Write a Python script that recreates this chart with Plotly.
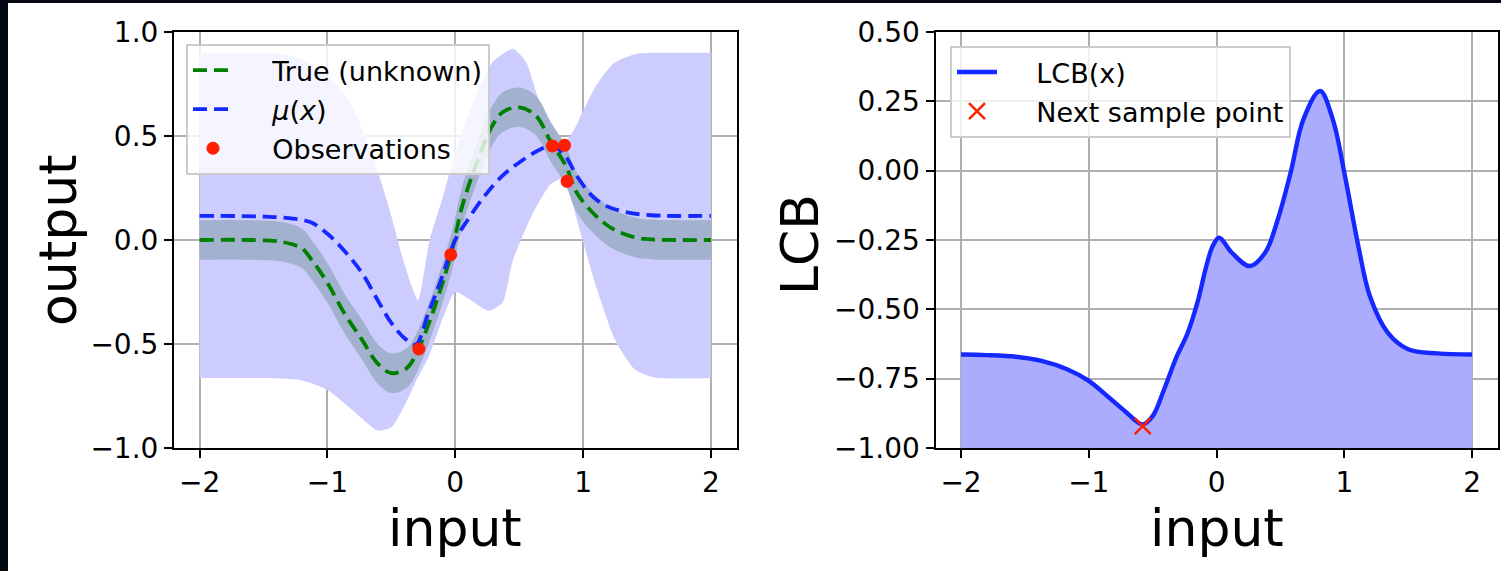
import plotly.graph_objects as go

# ---------------- data ----------------
true_x = [-2.0, -1.6, -1.35, -1.2, -1.13, -1.0, -0.87, -0.73, -0.61, -0.50, -0.38, -0.29, -0.15, -0.03,
          0.055, 0.17, 0.29, 0.37, 0.50, 0.63, 0.75, 0.865, 0.95, 1.10, 1.24, 1.415, 1.53, 2.0]
true_y = [0.0, 0.0, -0.01, -0.04, -0.09, -0.206, -0.35, -0.479, -0.592, -0.640, -0.616, -0.527, -0.302, -0.061,
          0.164, 0.373, 0.55, 0.614, 0.638, 0.598, 0.469, 0.357, 0.228, 0.116, 0.051, 0.011, 0.003, 0.0]
noise_band = 0.095

mu_x = [-2.0, -1.5, -1.3, -1.13, -1.0, -0.87, -0.73, -0.61, -0.50, -0.39, -0.31, -0.21, -0.12, 0.0,
        0.084, 0.23, 0.37, 0.52, 0.66, 0.76, 0.86, 0.95, 1.07, 1.18, 1.33, 1.53, 2.0]
mu_y = [0.116, 0.113, 0.105, 0.085, 0.03, -0.05, -0.158, -0.286, -0.399, -0.476, -0.503, -0.350, -0.206, 0.0,
        0.084, 0.212, 0.309, 0.381, 0.434, 0.453, 0.405, 0.309, 0.212, 0.164, 0.135, 0.119, 0.116]

ci_up_x = [-2.0, -1.6, -1.3, -1.1, -0.95, -0.84, -0.67, -0.52, -0.41, -0.33, -0.29, -0.2, -0.1, 0.0,
           0.1, 0.2, 0.3, 0.45, 0.55, 0.65, 0.75, 0.85, 0.92, 1.0, 1.1, 1.24, 1.42, 1.7, 2.0]
ci_up_y = [0.90, 0.90, 0.89, 0.84, 0.76, 0.68, 0.45, 0.16, -0.09, -0.24, -0.29, 0.0, 0.2, 0.42,
           0.6, 0.75, 0.86, 0.92, 0.86, 0.68, 0.55, 0.47, 0.52, 0.62, 0.74, 0.85, 0.895, 0.90, 0.90]
ci_lo_x = [-2.0, -1.5, -1.2, -1.0, -0.8, -0.61, -0.5, -0.4, -0.3, -0.2, -0.1, 0.0, 0.1, 0.26, 0.37,
           0.45, 0.6, 0.75, 0.86, 0.95, 1.1, 1.25, 1.4, 1.55, 2.0]
ci_lo_y = [-0.664, -0.664, -0.675, -0.72, -0.82, -0.915, -0.9, -0.8, -0.67, -0.55, -0.38, -0.25, -0.28, -0.34, -0.30,
           -0.1, 0.12, 0.27, 0.30, 0.1, -0.22, -0.48, -0.62, -0.66, -0.664]

obs_x = [-0.285, -0.035, 0.76, 0.855, 0.875]
obs_y = [-0.524, -0.071, 0.452, 0.455, 0.282]

lcb_x = [-2.0, -1.8, -1.57, -1.37, -1.17, -1.0, -0.84, -0.71, -0.58, -0.50, -0.41, -0.31, -0.23, -0.15,
         -0.08, -0.03, 0.02, 0.12, 0.26, 0.38, 0.48, 0.58, 0.68, 0.81, 0.91, 1.01, 1.11, 1.2, 1.34, 1.5, 1.73, 2.0]
lcb_y = [-0.663, -0.665, -0.671, -0.686, -0.716, -0.758, -0.819, -0.870, -0.915, -0.885, -0.788, -0.668, -0.590, -0.476,
         -0.344, -0.272, -0.242, -0.296, -0.344, -0.296, -0.175, -0.007, 0.185, 0.287, 0.185, -0.031, -0.272, -0.452,
         -0.584, -0.644, -0.659, -0.663]
next_x = [-0.578]
next_y = [-0.921]

x_ticks = [-2, -1, 0, 1, 2]
x_tick_text = ["\u22122", "\u22121", "0", "1", "2"]
y1_ticks = [-1.0, -0.5, 0.0, 0.5, 1.0]
y1_tick_text = ["\u22121.0", "\u22120.5", "0.0", "0.5", "1.0"]
y2_ticks = [-1.0, -0.75, -0.5, -0.25, 0.0, 0.25, 0.5]
y2_tick_text = ["\u22121.00", "\u22120.75", "\u22120.50", "\u22120.25", "0.00", "0.25", "0.50"]

# ---------------- figure ----------------
W, H = 1501, 571
FONT = "DejaVu Sans"
FS_TICK = 28
FS_LEG = 27
PAD = "\u00a0\u00a0\u00a0\u00a0"
fig = go.Figure()

# left: confidence band (lower edge, then upper edge filled to it)
fig.add_trace(go.Scatter(x=ci_lo_x, y=ci_lo_y, mode="lines",
                         line=dict(width=0, shape="spline", smoothing=0.6),
                         showlegend=False, hoverinfo="skip", xaxis="x", yaxis="y"))
fig.add_trace(go.Scatter(x=ci_up_x, y=ci_up_y, mode="lines", fill="tonexty", fillcolor="rgb(204,204,255)",
                         line=dict(width=0, shape="spline", smoothing=0.6),
                         showlegend=False, hoverinfo="skip", xaxis="x", yaxis="y"))
# noise band around the true function
band_lo = [v - noise_band for v in true_y]
band_up = [v + noise_band for v in true_y]
fig.add_trace(go.Scatter(x=true_x, y=band_lo, mode="lines", line=dict(width=0, shape="spline"),
                         showlegend=False, hoverinfo="skip", xaxis="x", yaxis="y"))
fig.add_trace(go.Scatter(x=true_x, y=band_up, mode="lines", fill="tonexty", fillcolor="rgb(162,177,205)",
                         line=dict(width=0, shape="spline"),
                         showlegend=False, hoverinfo="skip", xaxis="x", yaxis="y"))
fig.add_trace(go.Scatter(x=true_x, y=true_y, mode="lines", name=PAD + "True (unknown)",
                         line=dict(color="rgb(0,128,0)", width=3.8, dash="14px,7px", shape="spline"),
                         legendgroup="a", xaxis="x", yaxis="y"))
fig.add_trace(go.Scatter(x=mu_x, y=mu_y, mode="lines", name=PAD + "<i>\u03bc</i>(<i>x</i>)",
                         line=dict(color="rgb(20,40,255)", width=3.8, dash="14px,7px", shape="spline"),
                         legendgroup="b", xaxis="x", yaxis="y"))
fig.add_trace(go.Scatter(x=obs_x, y=obs_y, mode="markers", name=PAD + "Observations",
                         marker=dict(color="rgb(255,30,0)", size=13), legendgroup="c",
                         xaxis="x", yaxis="y"))

# right: LCB
fig.add_trace(go.Scatter(x=[lcb_x[0], lcb_x[-1]], y=[-1.0, -1.0], mode="lines", line=dict(width=0),
                         showlegend=False, hoverinfo="skip", xaxis="x2", yaxis="y2"))
fig.add_trace(go.Scatter(x=lcb_x, y=lcb_y, mode="lines", fill="tonexty", fillcolor="rgb(172,172,255)",
                         line=dict(width=0, shape="spline"), showlegend=False, hoverinfo="skip",
                         xaxis="x2", yaxis="y2"))
fig.add_trace(go.Scatter(x=lcb_x, y=lcb_y, mode="lines", name=PAD + "LCB(x)",
                         line=dict(color="rgb(20,40,255)", width=4.4, shape="spline"),
                         legend="legend2", legendgroup="d", xaxis="x2", yaxis="y2"))
fig.add_trace(go.Scatter(x=next_x, y=next_y, mode="markers", name=PAD + "Next sample point",
                         marker=dict(symbol="x-thin", size=16, line=dict(color="rgb(255,30,0)", width=2.5)),
                         legend="legend2", legendgroup="e", xaxis="x2", yaxis="y2"))

axis_common = dict(showline=True, linecolor="black", linewidth=2, mirror=True,
                   ticks="outside", ticklen=8, tickwidth=2, tickcolor="black",
                   showgrid=True, gridcolor="rgb(176,176,176)", gridwidth=2, zeroline=False,
                   tickfont=dict(family=FONT, size=FS_TICK, color="black"), automargin=False)

legend_common = dict(xanchor="left", yanchor="top",
                     bgcolor="rgba(255,255,255,0.8)", bordercolor="rgb(204,204,204)", borderwidth=2,
                     font=dict(family=FONT, size=FS_LEG, color="black"), tracegroupgap=1, itemwidth=40)

yb, yt = 1 - 448 / H, 1 - 32 / H
fig.update_layout(
    width=W, height=H, template="none",
    margin=dict(l=0, r=0, t=0, b=0),
    paper_bgcolor="rgb(4,8,18)", plot_bgcolor="white",
    font=dict(family=FONT, size=FS_TICK, color="black"),
    xaxis=dict(domain=[174 / W, 736.5 / W], range=[-2.2, 2.2], tickvals=x_ticks, ticktext=x_tick_text,
               anchor="y", **axis_common),
    yaxis=dict(domain=[yb, yt], range=[-1.0, 1.0], tickvals=y1_ticks, ticktext=y1_tick_text,
               anchor="x", **axis_common),
    xaxis2=dict(domain=[935.5 / W, 1497.6 / W], range=[-2.2, 2.2], tickvals=x_ticks, ticktext=x_tick_text,
                anchor="y2", **axis_common),
    yaxis2=dict(domain=[yb, yt], range=[-1.0, 0.5], tickvals=y2_ticks, ticktext=y2_tick_text,
                anchor="x2", **axis_common),
    legend=dict(x=186 / W, y=1 - 44 / H, **legend_common),
    legend2=dict(x=950 / W, y=1 - 46 / H, **legend_common),
    shapes=[dict(type="rect", xref="paper", yref="paper", x0=8 / W, x1=1.0, y0=0.0, y1=1 - 3 / H,
                 fillcolor="white", line=dict(width=0), layer="below")],
    annotations=[
        dict(text="input", x=455 / W, y=1 - 528 / H, xref="paper", yref="paper", showarrow=False,
             xanchor="center", yanchor="middle", font=dict(family=FONT, size=52, color="black")),
        dict(text="input", x=1216.5 / W, y=1 - 528 / H, xref="paper", yref="paper", showarrow=False,
             xanchor="center", yanchor="middle", font=dict(family=FONT, size=52, color="black")),
        dict(text="output", x=58 / W, y=1 - 240 / H, xref="paper", yref="paper", showarrow=False,
             textangle=-90, xanchor="center", yanchor="middle", font=dict(family=FONT, size=52, color="black")),
        dict(text="LCB", x=800 / W, y=1 - 245 / H, xref="paper", yref="paper", showarrow=False,
             textangle=-90, xanchor="center", yanchor="middle", font=dict(family=FONT, size=52, color="black")),
    ],
)

fig.write_html("out.html", config={"displayModeBar": False},
               post_script="document.body.style.margin='0';document.body.style.overflow='hidden';")
